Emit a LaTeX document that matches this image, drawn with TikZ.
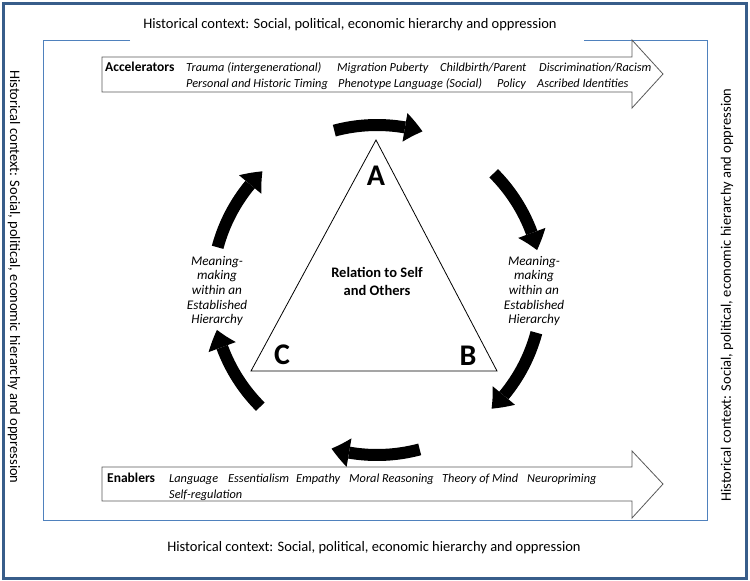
\documentclass[tikz,border=0pt]{standalone}
\usepackage{fontspec}
\setmainfont{Carlito}
\usetikzlibrary{arrows.meta,bending,calc}
\definecolor{outerblue}{HTML}{385D8A}
\definecolor{innerblue}{HTML}{4F81BD}
\definecolor{boxgray}{HTML}{595959}
\tikzset{
  ctx/.style={font=\fontsize{14.5}{16}\selectfont, inner sep=0pt},
  ital/.style={font=\fontsize{12.3}{14}\selectfont\itshape, inner sep=0pt, anchor=base west},
  boldlab/.style={font=\fontsize{13.5}{15}\selectfont\bfseries, inner sep=0pt, anchor=base west},
  meaning/.style={font=\fontsize{13.2}{14.6}\selectfont\itshape, align=center, inner sep=0pt},
  vertex/.style={font=\fontsize{30}{32}\selectfont\bfseries, inner sep=0pt},
  boxarrow/.style={draw=boxgray, fill=white, line width=0.8pt, line join=miter},
  cyc/.style={line width=12pt, -{Triangle[length=18pt,width=29pt,line width=0pt,bend]}},
}
\begin{document}
\begin{tikzpicture}[x=1pt,y=-1pt]
\useasboundingbox (0,0) rectangle (750,581);
% outer border
\draw[outerblue, line width=3pt] (3,3) rectangle (746,578);
% inner frame with gap for the top text
\draw[innerblue, line width=0.9pt] (130,40) -- (43,40) -- (43,520) -- (707,520) -- (707,40) -- (584,40);
% context texts
\node[ctx] (ctxtop) at (350,25) {Historical context: Social, political, economic hierarchy and oppression};
\node[ctx] (ctxbot) at (374,548) {Historical context: Social, political, economic hierarchy and oppression};
\node[ctx, rotate=-90] (ctxleft) at (14,277) {Historical context: Social, political, economic hierarchy and oppression};
\node[ctx, rotate=90] (ctxright) at (727,295) {Historical context: Social, political, economic hierarchy and oppression};
% cycle arrows
\coordinate (O) at (377,290);
\foreach \c in {90,30,-30,-90,-150,150}{
  \draw[cyc] ($(O)+({-(\c+15)}:165)$) arc[start angle={-(\c+15)}, end angle={-(\c-16)}, radius=165];
}
% accelerators arrow
\draw[boxarrow] (102,57) -- (632,57) -- (632,40) -- (663,74) -- (632,108) -- (632,92) -- (102,92) -- cycle;
\node[boldlab] (acc) at (105,71) {Accelerators};
\node[ital] (a1) at (186,71) {Trauma (intergenerational)};
\node[ital] (a2) at (337,71) {Migration Puberty};
\node[ital] (a3) at (440,71) {Childbirth/Parent};
\node[ital] (a4) at (539,71) {Discrimination/Racism};
\node[ital] (a5) at (186,87) {Personal and Historic Timing};
\node[ital] (a6) at (338,87) {Phenotype Language (Social)};
\node[ital] (a7) at (497,87) {Policy};
\node[ital] (a8) at (537,87) {Ascribed Identities};
% enablers arrow
\draw[boxarrow] (102,467) -- (632,467) -- (632,451) -- (663,484) -- (632,518) -- (632,501) -- (102,501) -- cycle;
\node[boldlab] (enb) at (107,482) {Enablers};
\node[ital] (e1) at (169,482) {Language};
\node[ital] (e2) at (228,482) {Essentialism};
\node[ital] (e3) at (296,482) {Empathy};
\node[ital] (e4) at (349,482) {Moral Reasoning};
\node[ital] (e5) at (442,482) {Theory of Mind};
\node[ital] (e6) at (527,482) {Neuropriming};
\node[ital] (e7) at (169,498) {Self-regulation};
% triangle
\coordinate (TA) at (376,140);
\coordinate (TB) at (497,371);
\coordinate (TC) at (251,371);
\draw[line width=0.8pt, line join=miter] (TA) -- (TB) -- (TC) -- cycle;
\node[vertex] (A) at (376,176) {A};
\node[vertex] (B) at (468,356) {B};
\node[vertex] (C) at (282,355) {C};
\node[font=\fontsize{14.5}{18}\selectfont\bfseries, align=center, inner sep=0pt] (rel) at (377,281) {Relation to Self\\and Others};
\node[meaning] (mml) at (217,291) {Meaning-\\making\\within an\\Established\\Hierarchy};
\node[meaning] (mmr) at (534,291) {Meaning-\\making\\within an\\Established\\Hierarchy};
\end{tikzpicture}
\end{document}
